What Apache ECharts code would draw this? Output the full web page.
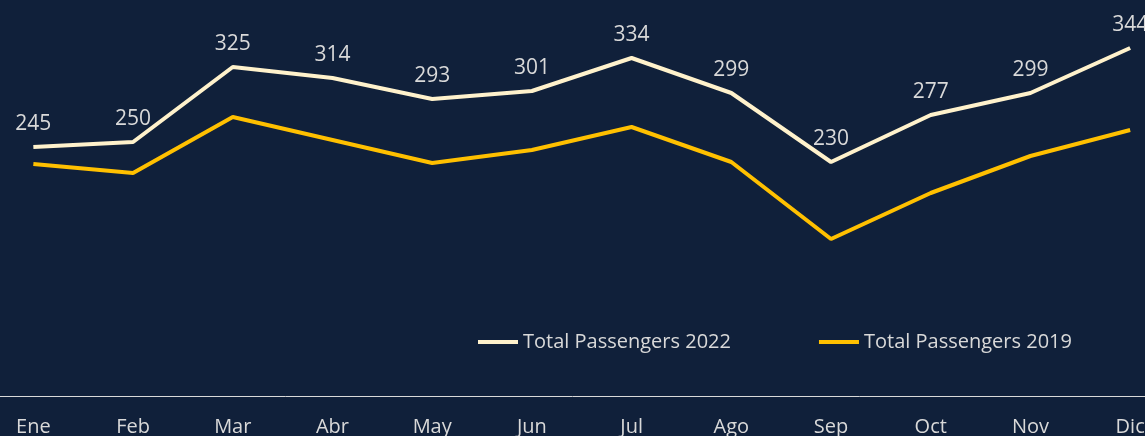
<!DOCTYPE html>
<html>
<head>
<meta charset="utf-8">
<script src="https://cdn.jsdelivr.net/npm/echarts@6/dist/echarts.min.js"></script>
<style>
  html, body { margin: 0; padding: 0; background: #10203a; }
  #chart { width: 1145px; height: 436px; }
</style>
</head>
<body>
<div id="chart"></div>
<script>
const months = ["Ene", "Feb", "Mar", "Abr", "May", "Jun", "Jul", "Ago", "Sep", "Oct", "Nov", "Dic"];
const passengers2022 = [245, 250, 325, 314, 293, 301, 334, 299, 230, 277, 299, 344];
const passengers2019 = [228, 219, 275, 252, 229, 242, 265, 230, 153, 199, 236, 262];

const TEXT = "#d9d9d9";
const FONT = "'Open Sans', sans-serif";

const chart = echarts.init(document.getElementById("chart"));

chart.setOption({
  backgroundColor: "#10203a",
  animation: false,
  textStyle: { fontFamily: FONT },
  legend: {
    data: [
      { name: "Total Passengers 2022", itemStyle: { color: "#fff2cc", opacity: 1 } },
      { name: "Total Passengers 2019", itemStyle: { color: "#ffc000", opacity: 1 } }
    ],
    left: 478,
    top: 332,
    padding: 0,
    icon: "rect",
    itemWidth: 40,
    itemHeight: 4,
    itemGap: 88,
    textStyle: { color: TEXT, fontSize: 20, fontFamily: FONT }
  },
  grid: { left: -16.5, right: -35, top: 42, bottom: 44, outerBoundsMode: "none", containLabel: false },
  xAxis: {
    type: "category",
    data: months,
    offset: 4,
    axisLine: { onZero: false, lineStyle: { color: TEXT, width: 1 } },
    axisTick: { show: false },
    axisLabel: { color: TEXT, fontSize: 20, margin: 21, fontFamily: FONT }
  },
  yAxis: {
    type: "value",
    min: 0,
    max: 350,
    show: false,
    splitLine: { show: false }
  },
  series: [
    {
      name: "Total Passengers 2022",
      type: "line",
      data: passengers2022,
      symbol: "circle",
      symbolSize: 0,
      itemStyle: { color: "#fff2cc" },
      lineStyle: { color: "#fff2cc", width: 4 },
      label: {
        show: true,
        position: "top",
        distance: 12,
        color: TEXT,
        fontSize: 21,
        fontFamily: FONT
      },
      z: 3
    },
    {
      name: "Total Passengers 2019",
      type: "line",
      data: passengers2019,
      symbol: "none",
      itemStyle: { color: "#ffc000" },
      lineStyle: { color: "#ffc000", width: 4 },
      z: 2
    }
  ]
});
</script>
</body>
</html>
